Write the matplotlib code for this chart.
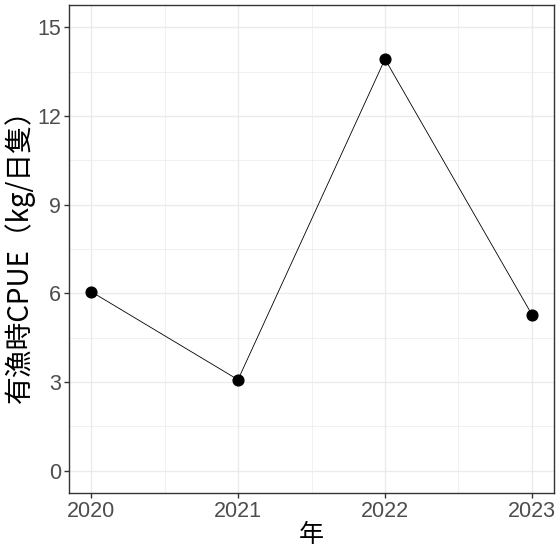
import matplotlib
matplotlib.use("Agg")
import matplotlib.pyplot as plt
from matplotlib.ticker import MultipleLocator

years = [2020, 2021, 2022, 2023]
cpue = [6.06, 3.08, 13.92, 5.28]

ytick_vals = [0, 3, 6, 9, 12, 15]

plt.rcParams['font.family'] = ['Liberation Sans', 'Noto Sans CJK JP', 'DejaVu Sans']

fig = plt.figure(figsize=(5.56, 5.5), dpi=100)
ax = fig.add_axes([69/556, 57/550, 485/556, 488/550])

ax.plot(years, cpue, color='black', lw=0.6, zorder=3)
ax.scatter(years, cpue, s=60, color='black', zorder=4)

ax.set_xlim(2019.85, 2023.15)
ax.set_ylim(-0.75, 15.75)
ax.set_xticks(years)
ax.set_yticks(ytick_vals)
ax.xaxis.set_minor_locator(MultipleLocator(0.5))
ax.yaxis.set_minor_locator(MultipleLocator(1.5))

ax.grid(which='major', color='#EBEBEB', lw=1.0, zorder=0)
ax.grid(which='minor', color='#EBEBEB', lw=0.5, zorder=0)
ax.set_axisbelow(True)

for s in ax.spines.values():
    s.set_color('#333333')
    s.set_linewidth(1.0)

ax.tick_params(which='major', length=3.5, width=1.0, color='#333333',
               labelsize=15.5, labelcolor='#4D4D4D', pad=2)
ax.tick_params(which='minor', length=0)

ax.set_xlabel('年', fontsize=18, family=['Noto Sans CJK JP', 'DejaVu Sans'], labelpad=0)
ax.set_ylabel('有漁時CPUE（kg/日隻）', fontsize=20,
              family=['Noto Sans CJK JP', 'DejaVu Sans'], labelpad=2)

fig.savefig('out.png', dpi=100)
